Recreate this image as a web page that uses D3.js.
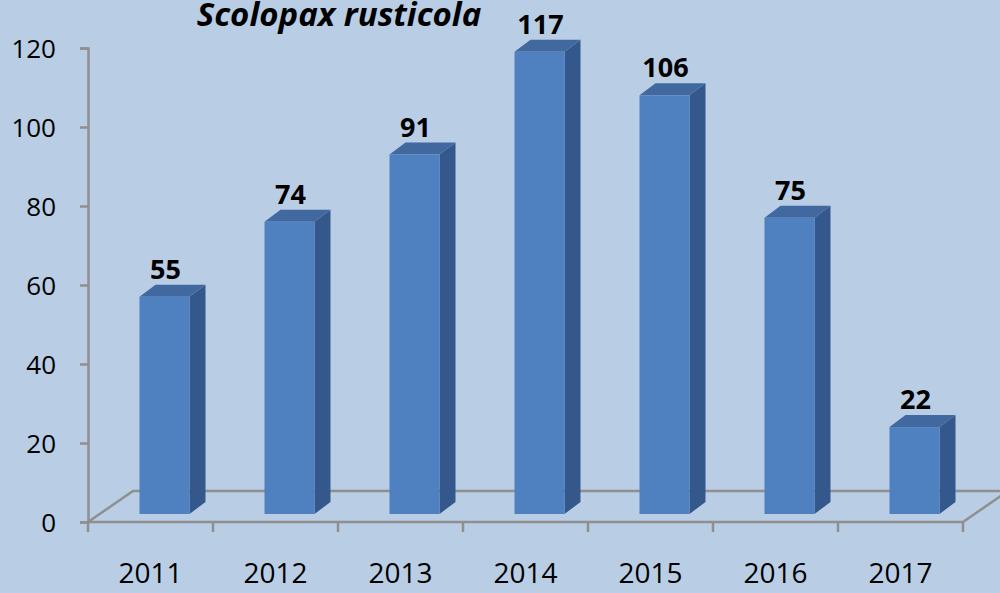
<!DOCTYPE html>
<html>
<head>
<meta charset="utf-8">
<script src="https://cdn.jsdelivr.net/npm/d3@7"></script>
<style>
  body { margin: 0; background: #b9cde5; overflow: hidden; }
  svg { display: block; }
  text { font-family: "Open Sans", "DejaVu Sans", sans-serif; }
</style>
</head>
<body>
<div id="holder"></div>
<script>
const years = ["2011", "2012", "2013", "2014", "2015", "2016", "2017"];
const counts = [55, 74, 91, 117, 106, 75, 22];
const yTicks = [0, 20, 40, 60, 80, 100, 120];
const title = "Scolopax rusticola";

const w = 1000;
const h = 593;
const left = 88, right = 963;
const floorBase = 522;
// 3d depth offsets
const depthX = 45, depthY = -31;
const barInset = 8;
const sideX = 16, sideY = -12;

let svg = d3.select("#holder")
    .append("svg")
    .attr("width", w)
    .attr("height", h);

svg.append("rect").attr("width", w).attr("height", h).attr("fill", "#b9cde5");

let xScale = d3.scaleBand()
    .domain(years)
    .range([left, right]);

let yScale = d3.scaleLinear()
    .domain([0, 120])
    .range([floorBase, 48]);

// floor
const gray = "#8f8f8f";
svg.append("path")
    .attr("d", "M" + left + "," + floorBase +
        " L" + (left + depthX) + "," + (floorBase + depthY) +
        " L" + (right + depthX) + "," + (floorBase + depthY))
    .attr("fill", "none")
    .attr("stroke", gray)
    .attr("stroke-width", 2.5);
svg.append("path")
    .attr("d", "M" + right + "," + floorBase + " L" + (right + depthX) + "," + (floorBase + depthY))
    .attr("fill", "none")
    .attr("stroke", gray)
    .attr("stroke-width", 2.5);

// Axes
const yAxis = d3.axisLeft(yScale).tickValues(yTicks).tickSize(8).tickSizeOuter(8).tickPadding(24);
let gy = svg.append("g")
    .attr("transform", "translate(" + left + ",0)")
    .call(yAxis);
gy.select(".domain").attr("stroke", gray).attr("stroke-width", 2.5);
gy.selectAll(".tick line").attr("stroke", gray).attr("stroke-width", 2.5);
gy.selectAll(".tick text")
    .attr("fill", "#000")
    .style("font-size", "26px")
    .attr("dy", "0.36em");

const xAxis = d3.axisBottom(xScale).tickSize(0).tickPadding(0);
let gx = svg.append("g")
    .attr("transform", "translate(0," + floorBase + ")")
    .call(xAxis);
gx.select(".domain").attr("stroke", gray).attr("stroke-width", 2.5).attr("d", "M" + left + ",0H" + right);
gx.selectAll(".tick text")
    .attr("fill", "#000")
    .attr("y", 61)
    .attr("dy", 0)
    .style("font-size", "28px");
// ticks between categories
gx.selectAll(".cat-tick")
    .data(years.concat(["end"]))
    .enter()
    .append("line")
    .attr("x1", (d, i) => left + i * xScale.step())
    .attr("x2", (d, i) => left + i * xScale.step())
    .attr("y1", 0)
    .attr("y2", 10)
    .attr("stroke", gray)
    .attr("stroke-width", 2.5);

// bars
const barW = 50;
const frontX = d => xScale(d) + xScale.bandwidth() / 2 + 14 - barW / 2;
const topY = v => yScale(v) - barInset;
const bottomY = floorBase - barInset;

let bars = svg.selectAll(".bar")
    .data(years.map((y, i) => ({year: y, value: counts[i]})))
    .enter()
    .append("g")
    .attr("class", "bar");

bars.append("path")
    .attr("fill", "#34588b")
    .attr("d", d => {
        let x = frontX(d.year) + barW, t = topY(d.value);
        return "M" + x + "," + bottomY + " L" + (x + sideX) + "," + (bottomY + sideY) +
            " L" + (x + sideX) + "," + (t + sideY) + " L" + x + "," + t + "Z";
    });
bars.append("path")
    .attr("fill", "#41699f")
    .attr("d", d => {
        let x = frontX(d.year), t = topY(d.value);
        return "M" + x + "," + t + " L" + (x + sideX) + "," + (t + sideY) +
            " L" + (x + barW + sideX) + "," + (t + sideY) + " L" + (x + barW) + "," + t + "Z";
    });
bars.append("rect")
    .attr("fill", "#4f80bf")
    .attr("x", d => frontX(d.year))
    .attr("y", d => topY(d.value))
    .attr("width", barW)
    .attr("height", d => bottomY - topY(d.value));

bars.append("text")
    .attr("x", d => frontX(d.year) + barW / 2 + 1)
    .attr("y", d => topY(d.value) + sideY - 6)
    .attr("text-anchor", "middle")
    .style("font-size", "27px")
    .style("font-weight", "bold")
    .text(d => d.value);

// title
svg.append("text")
    .attr("x", 339)
    .attr("y", 26)
    .attr("text-anchor", "middle")
    .style("font-size", "33px")
    .style("font-weight", "bold")
    .style("font-style", "italic")
    .text(title);
</script>
</body>
</html>
